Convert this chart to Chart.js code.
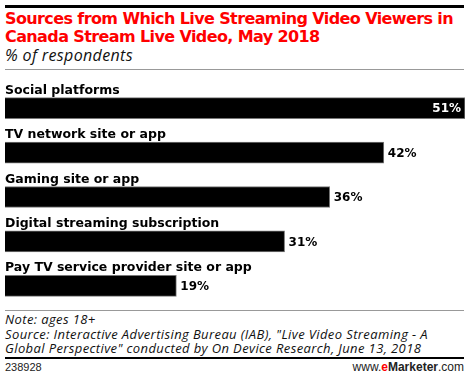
<!DOCTYPE html>
<html>
<head>
<meta charset="utf-8">
<script src="https://cdn.jsdelivr.net/npm/chart.js@4"></script>
<style>
  html, body { margin: 0; padding: 0; background: #fff; }
  body { width: 470px; height: 379px; position: relative; overflow: hidden; font-family: "DejaVu Sans", sans-serif; }
  .rule { position: absolute; left: 5px; width: 459px; }
  .line { display: block; white-space: nowrap; }
  .line span { display: inline-block; }
  #title { position: absolute; left: 5px; top: 10px; color: #f00; font-weight: bold; font-size: 16px; line-height: 18px; }
  #subtitle { position: absolute; left: 5px; top: 46px; font-style: italic; font-size: 16px; line-height: 18px; font-family: "Open Sans", sans-serif; color: #111; }
  #notes { position: absolute; left: 5px; top: 312px; font-style: italic; font-size: 13px; line-height: 14.5px; font-family: "Open Sans", sans-serif; color: #111; }
  #id { position: absolute; left: 5px; top: 361px; font-size: 11px; font-family: "Liberation Sans", sans-serif; color: #222; }
  #brand { position: absolute; right: 6px; top: 360px; font-size: 12px; font-family: "Liberation Sans", sans-serif; color: #222; }
  #brand .e { color: #f00; }
  #wrap { position: absolute; left: 0; top: 75px; width: 470px; height: 235px; }
</style>
</head>
<body>
<div class="rule" style="top:5px;height:3px;background:#000;"></div>
<div id="title">
  <span class="line"><span data-w="448">Sources from Which Live Streaming Video Viewers in</span></span>
  <span class="line"><span>Canada Stream Live Video, May 2018</span></span>
</div>
<div id="subtitle"><span class="line"><span data-w="128">% of respondents</span></span></div>
<div class="rule" style="top:69px;height:1px;background:#999;"></div>
<div id="wrap"><canvas id="chart"></canvas></div>
<div class="rule" style="top:310px;height:1px;background:#999;"></div>
<div id="notes">
  <span class="line"><span>Note: ages 18+</span></span>
  <span class="line"><span data-w="423">Source: Interactive Advertising Bureau (IAB), "Live Video Streaming - A</span></span>
  <span class="line"><span>Global Perspective" conducted by On Device Research, June 13, 2018</span></span>
</div>
<div class="rule" style="top:357px;height:2px;background:#000;"></div>
<div id="id">238928</div>
<div id="brand">www.<b class="e">e</b><b>Marketer</b>.com</div>
<script>
const categories = [
    'Social platforms',
    'TV network site or app',
    'Gaming site or app',
    'Digital streaming subscription',
    'Pay TV service provider site or app'
];
const values = [51, 42, 36, 31, 19];

// squeeze the text blocks to the widths seen in the original
document.querySelectorAll('[data-w]').forEach(el => {
    const target = +el.dataset.w;
    const n = el.textContent.length;
    const ls = (target - el.getBoundingClientRect().width) / n;
    el.parentNode.parentNode.style.letterSpacing = ls + 'px';
});

// draws the category name above each bar and the value at its end
const barLabels = {
    id: 'barLabels',
    afterDatasetsDraw(chart) {
        const ctx = chart.ctx;
        const meta = chart.getDatasetMeta(0);
        ctx.save();
        meta.data.forEach((bar, i) => {
            const top = bar.y - bar.height / 2;
            ctx.font = 'bold 12.5px "DejaVu Sans"';
            ctx.fillStyle = '#000';
            ctx.textAlign = 'left';
            ctx.textBaseline = 'alphabetic';
            ctx.fillText(categories[i], 5, top - 4);

            ctx.font = 'bold 12px "DejaVu Sans"';
            ctx.textBaseline = 'middle';
            const txt = values[i] + '%';
            if (i === 0) {
                ctx.fillStyle = '#fff';
                ctx.textAlign = 'right';
                ctx.fillText(txt, bar.x - 4, bar.y + 1);
            } else {
                ctx.fillStyle = '#000';
                ctx.textAlign = 'left';
                ctx.fillText(txt, bar.x + 4, bar.y + 1);
            }
        });
        ctx.restore();
    }
};

const ctx = document.getElementById('chart').getContext('2d');
new Chart(ctx, {
    type: 'bar',
    data: {
        labels: categories,
        datasets: [{
            data: values,
            backgroundColor: '#000',
            borderColor: '#777',
            borderWidth: 1,
            barThickness: 21
        }]
    },
    options: {
        indexAxis: 'y',
        responsive: true,
        maintainAspectRatio: false,
        animation: false,
        layout: { padding: { left: 5, right: 5, top: 11, bottom: 2 } },
        plugins: {
            legend: { display: false },
            tooltip: { enabled: false }
        },
        scales: {
            x: { display: false, min: 0, max: 51 },
            y: { display: false }
        }
    },
    plugins: [barLabels]
});
</script>
</body>
</html>
